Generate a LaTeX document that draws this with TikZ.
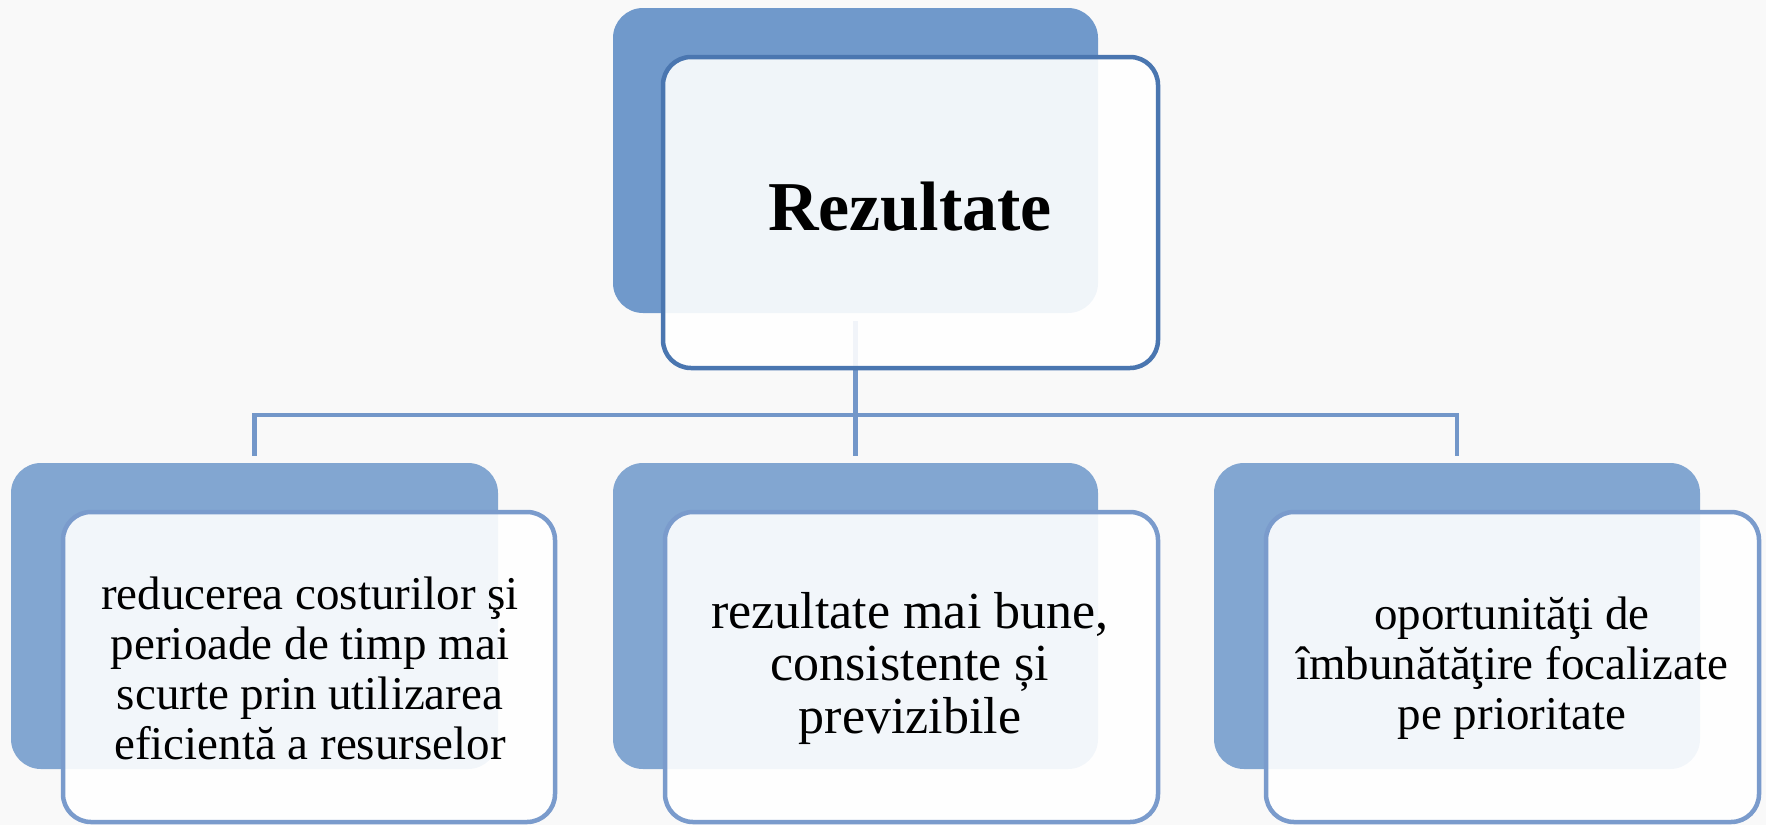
\documentclass[tikz,border=0pt]{standalone}
\usepackage{fontspec}
\setmainfont{Liberation Serif}
\begin{document}
\begin{tikzpicture}[x=1pt,y=-1pt,
  backbox/.style={rectangle, rounded corners=30pt, inner sep=0pt, draw=none},
  topback/.style={backbox, fill=topblue},
  lowback/.style={backbox, fill=lowblue},
  frontbox/.style={rectangle, rounded corners=28pt, inner sep=0pt,
     fill=white, fill opacity=0.9, line width=4.5pt},
  topfront/.style={frontbox, draw=topedge},
  lowfront/.style={frontbox, draw=lowedge},
  conn/.style={draw=linkblue, line width=4.5pt},
  label/.style={align=center, inner sep=0pt, text=black,
     font=\fontsize{47}{50}\selectfont},
]
\definecolor{topblue}{HTML}{7099CB}
\definecolor{lowblue}{HTML}{82A6D1}
\definecolor{topedge}{HTML}{4A76B0}
\definecolor{lowedge}{HTML}{7A9BCC}
\definecolor{linkblue}{HTML}{7397C9}
\definecolor{paper}{HTML}{F9F9F9}

% canvas
\fill[paper] (0,0) rectangle (1766,825);
\useasboundingbox (0,0) rectangle (1766,825);

% back panels
\node[topback, minimum width=485pt, minimum height=305pt] (tb) at (855.5,160.5) {};
\node[lowback, minimum width=487pt, minimum height=306pt] (bl) at (254.5,616) {};
\node[lowback, minimum width=485pt, minimum height=306pt] (bm) at (855.5,616) {};
\node[lowback, minimum width=486pt, minimum height=306pt] (br) at (1457,616) {};

% tree connectors
\coordinate (hub) at (856,415);
\draw[conn] ([yshift=-8pt]tb.south) -- ([yshift=7pt]bm.north);
\draw[conn] ([yshift=7pt]bl.north) |- (hub) -| ([yshift=7pt]br.north);

% front panels
\node[topfront, minimum width=495pt, minimum height=311pt] (tf) at (910.5,212.5) {};
\node[lowfront, minimum width=492pt, minimum height=310pt] (fl) at (309,667) {};
\node[lowfront, minimum width=493pt, minimum height=310pt] (fm) at (911.5,667) {};
\node[lowfront, minimum width=493pt, minimum height=310pt] (fr) at (1512.5,667) {};

% texts
\node[label, font=\fontsize{70}{72}\selectfont\bfseries] (t0) at (910,207) {Rezultate};
\node[label] (t1) at (310,668) {reducerea costurilor şi\\perioade de timp mai\\scurte prin utilizarea\\eficientă a resurselor};
\node[label, font=\fontsize{52}{52.5}\selectfont] (t2) at (910,668) {rezultate mai bune,\\consistente și\\previzibile};
\node[label] (t3) at (1512,668) {oportunităţi de\\îmbunătăţire focalizate\\pe prioritate};
\end{tikzpicture}
\end{document}
